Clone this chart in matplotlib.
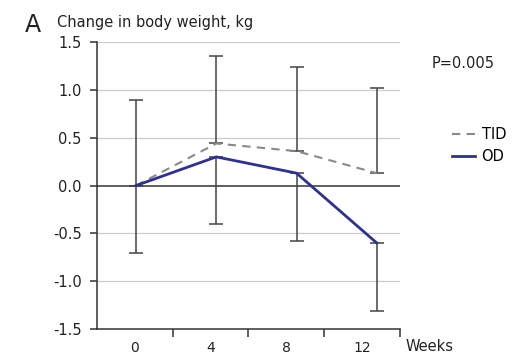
import matplotlib
matplotlib.use("Agg")
import matplotlib.pyplot as plt
import numpy as np

plt.rcParams["font.family"] = ["DejaVu Sans"]

# values
weeks = [0, 4, 8, 12]
week_labels = ["0", "4", "8", "12"]
tid_mean = [0.0, 0.44, 0.36, 0.13]
od_mean = [0.0, 0.30, 0.13, -0.60]
tid_sd_up = [0.90, 0.91, 0.88, 0.89]
od_sd_down = [0.71, 0.70, 0.71, 0.71]
y_ticks = [-1.5, -1.0, -0.5, 0.0, 0.5, 1.0, 1.5]

fig = plt.figure(figsize=(5.24, 3.59), dpi=100)
ax = fig.add_axes([0.185, 0.0836, 0.578, 0.799])

xmin, xmax = -1.95, 13.15
ax.set_xlim(xmin, xmax)
ax.set_ylim(-1.5, 1.5)

# grid
for yv in y_ticks:
    if yv == 0:
        ax.axhline(yv, color="#333333", lw=1.1, zorder=1)
    elif yv != -1.5:
        ax.axhline(yv, color="#cccccc", lw=0.9, zorder=0)

zeros = np.zeros(len(weeks))
err_kw = dict(fmt="none", ecolor="#444444", elinewidth=1.1, capsize=5, capthick=1.1, zorder=2)
ax.errorbar(weeks, tid_mean, yerr=[zeros, tid_sd_up], **err_kw)
ax.errorbar(weeks, od_mean, yerr=[od_sd_down, zeros], **err_kw)

ax.plot(weeks, tid_mean, color="#8a8a8a", lw=1.5, ls=(0, (4, 3)), label="TID", zorder=3)
ax.plot(weeks, od_mean, color="#2e3192", lw=2.0, label="OD", zorder=4)

# category style x axis
edges = np.linspace(xmin, xmax, 5)
centers = (edges[:-1] + edges[1:]) / 2
ax.set_xticks(centers)
ax.set_xticklabels(week_labels)
ax.set_xticks(edges[1:], minor=True)
ax.tick_params(axis="x", which="major", length=0, pad=8.5, labelsize=10, colors="#222222")
ax.tick_params(axis="x", which="minor", length=6, width=1.1, color="#333333", direction="out")

ax.set_yticks(y_ticks)
ax.set_yticklabels([f"{v:.1f}" for v in y_ticks])
ax.tick_params(axis="y", length=5, width=1.1, color="#333333", labelsize=10.5, pad=6, labelcolor="#222222")

for s in ["top", "right"]:
    ax.spines[s].set_visible(False)
for s in ["left", "bottom"]:
    ax.spines[s].set_color("#333333")
    ax.spines[s].set_linewidth(1.1)

fig.text(0.047, 0.912, "A", fontsize=17, color="#222222")
fig.text(0.109, 0.925, "Change in body weight, kg", fontsize=10.5, color="#222222")
fig.text(0.824, 0.81, "P=0.005", fontsize=10.5, color="#222222")
fig.text(0.773, 0.022, "Weeks", fontsize=10.5, color="#222222")

ax.legend(loc="center left", bbox_to_anchor=(0.862, 0.594), bbox_transform=fig.transFigure,
          frameon=False, fontsize=10.5, handlelength=1.6, handletextpad=0.45,
          labelspacing=0.45, borderaxespad=0, borderpad=0)

fig.savefig("out.png", dpi=100)
